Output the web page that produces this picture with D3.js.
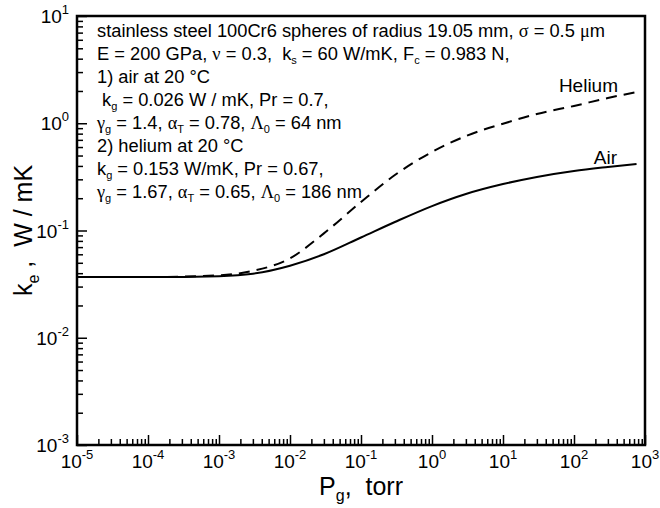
<!DOCTYPE html>
<html>
<head>
<meta charset="utf-8">
<script src="https://cdn.jsdelivr.net/npm/d3@7"></script>
<style>
  html, body { margin: 0; padding: 0; background: #fff; }
  svg { display: block; font-family: "Liberation Sans", Arial, sans-serif; }
  .greek { font-family: "Liberation Serif", "DejaVu Serif", serif; }
</style>
</head>
<body>
<svg id="chart" width="660" height="508"></svg>
<script>
// Gas pressure, torr
const pressure = [1e-5, 1e-4, 1e-3, 3e-3, 1e-2, 3e-2, 0.1, 0.3, 1, 3, 10, 30, 100, 300, 760];
// Effective conductivity of the packed bed, W/mK
const kAir    = [0.0368, 0.0368, 0.0375, 0.0395, 0.047, 0.06, 0.086, 0.12, 0.169, 0.219, 0.271, 0.316, 0.359, 0.391, 0.417];
const kHelium = [0.0368, 0.0368, 0.0382, 0.042, 0.055, 0.094, 0.1845, 0.329, 0.54, 0.76, 0.99, 1.22, 1.45, 1.72, 1.95];

const xTickExps = [-5, -4, -3, -2, -1, 0, 1, 2, 3];
const yTickExps = [-3, -2, -1, 0, 1];

// Parameter block; "_{..}" marks a subscript, "{g..}" a Greek run
const notes = [
  "stainless steel 100Cr6 spheres of radius 19.05 mm, {gσ} = 0.5 {gμ}m",
  "E = 200 GPa, {gν} = 0.3,  k_{s} = 60 W/mK, F_{c} = 0.983 N,",
  "1) air at 20 °C",
  " k_{g} = 0.026 W / mK, Pr = 0.7,",
  "{gγ}_{g} = 1.4, {gα}_{T} = 0.78, {gΛ}_{0} = 64 nm",
  "2) helium at 20 °C",
  "k_{g} = 0.153 W/mK, Pr = 0.67,",
  "{gγ}_{g} = 1.67, {gα}_{T} = 0.65, {gΛ}_{0} = 186 nm"
];

const svg = d3.select("#chart");
const plotL = 77, plotR = 645, plotT = 16, plotB = 445;

const x = d3.scaleLog().domain([1e-5, 1e3]).range([plotL, plotR]);
const y = d3.scaleLog().domain([1e-3, 1e1]).range([plotB, plotT]);

function minorTicks(exps) {
  const out = [];
  for (let i = 0; i < exps.length - 1; i++)
    for (let m = 2; m <= 9; m++) out.push(m * Math.pow(10, exps[i]));
  return out;
}

// Inward major and minor ticks
const gx = svg.append("g").attr("transform", `translate(0,${plotB})`);
gx.call(d3.axisBottom(x).tickValues(xTickExps.map(e => Math.pow(10, e)))
  .tickSizeInner(-10).tickSizeOuter(0).tickFormat(""));
gx.append("g").call(d3.axisBottom(x).tickValues(minorTicks(xTickExps))
  .tickSizeInner(-6).tickSizeOuter(0).tickFormat(""));

const gy = svg.append("g").attr("transform", `translate(${plotL},0)`);
gy.call(d3.axisLeft(y).tickValues(yTickExps.map(e => Math.pow(10, e)))
  .tickSizeInner(-10).tickSizeOuter(0).tickFormat(""));
gy.append("g").call(d3.axisLeft(y).tickValues(minorTicks(yTickExps))
  .tickSizeInner(-6).tickSizeOuter(0).tickFormat(""));

svg.selectAll(".domain").remove();
svg.selectAll(".tick line").attr("stroke", "#000").attr("stroke-width", 1.5);

// Frame
svg.append("rect")
  .attr("x", plotL).attr("y", plotT)
  .attr("width", plotR - plotL).attr("height", plotB - plotT)
  .attr("fill", "none").attr("stroke", "#000").attr("stroke-width", 2.5);

// Power-of-ten tick labels
function powLabel(sel, e) {
  sel.append("tspan").text("10");
  sel.append("tspan").attr("font-size", 13).attr("dy", -9).text(String(e));
}
xTickExps.forEach(e => {
  svg.append("text")
    .attr("x", x(Math.pow(10, e))).attr("y", 468)
    .attr("text-anchor", "middle").attr("font-size", 19)
    .call(powLabel, e);
});
yTickExps.forEach(e => {
  svg.append("text")
    .attr("x", 69).attr("y", y(Math.pow(10, e)) + 7)
    .attr("text-anchor", "end").attr("font-size", 19)
    .call(powLabel, e);
});

// Axis titles
const xt = svg.append("text")
  .attr("x", (plotL + plotR) / 2).attr("y", 495)
  .attr("text-anchor", "middle").attr("font-size", 25)
  .style("white-space", "pre");
xt.append("tspan").text("P");
xt.append("tspan").attr("font-size", 16).attr("dy", 6).text("g");
xt.append("tspan").attr("dy", -6).text(",  torr");

const yt = svg.append("text")
  .attr("transform", `translate(32,${(plotT + plotB) / 2}) rotate(-90)`)
  .attr("text-anchor", "middle").attr("font-size", 25)
  .style("white-space", "pre");
yt.append("tspan").text("k");
yt.append("tspan").attr("font-size", 16).attr("dy", 7).text("e");
yt.append("tspan").attr("dy", -7).text(" ,  W / mK");

// Curves
const line = d3.line()
  .x(d => x(d[0])).y(d => y(d[1]))
  .curve(d3.curveMonotoneX);

svg.append("path")
  .datum(pressure.map((p, i) => [p, kAir[i]]))
  .attr("d", line).attr("fill", "none")
  .attr("stroke", "#000").attr("stroke-width", 2);

svg.append("path")
  .datum(pressure.map((p, i) => [p, kHelium[i]]))
  .attr("d", line).attr("fill", "none")
  .attr("stroke", "#000").attr("stroke-width", 2)
  .attr("stroke-dasharray", "11,7");

svg.append("text").attr("x", 618).attr("y", 92)
  .attr("text-anchor", "end").attr("font-size", 19).text("Helium");
svg.append("text").attr("x", 617).attr("y", 164)
  .attr("text-anchor", "end").attr("font-size", 19).text("Air");

// Parameter annotation
const SUB_DY = 4;
function richLine(textSel, s) {
  const re = /\{g([^}]*)\}|_\{([^}]*)\}|([^{_]+|[{_])/g;
  let m, shifted = false;
  while ((m = re.exec(s)) !== null) {
    if (m[1] !== undefined) {
      const t = textSel.append("tspan").attr("class", "greek").text(m[1]);
      if (shifted) { t.attr("dy", -SUB_DY); shifted = false; }
    } else if (m[2] !== undefined) {
      textSel.append("tspan").attr("font-size", 11).attr("dy", SUB_DY).text(m[2]);
      shifted = true;
    } else {
      const t = textSel.append("tspan").text(m[3]);
      if (shifted) { t.attr("dy", -SUB_DY); shifted = false; }
    }
  }
}
notes.forEach((s, i) => {
  const t = svg.append("text")
    .attr("x", 97).attr("y", 37 + i * 23)
    .attr("font-size", 18.3)
    .style("white-space", "pre");
  richLine(t, s);
});
</script>
</body>
</html>
